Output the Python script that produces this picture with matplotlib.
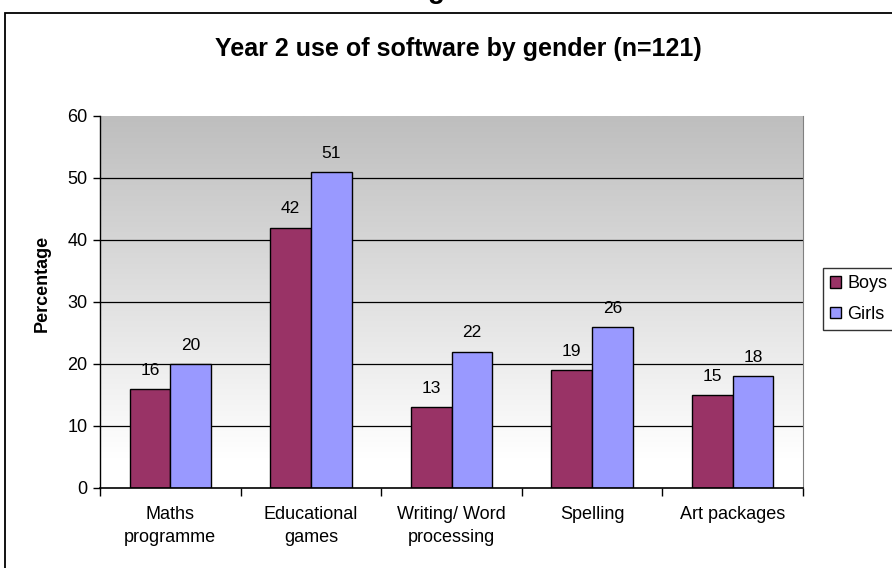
import numpy as np
import matplotlib.pyplot as plt
from matplotlib.patches import Rectangle
from matplotlib.colors import LinearSegmentedColormap

plt.rcParams['font.family'] = ['Liberation Sans', 'DejaVu Sans']

# data
categories = ['Maths\nprogramme', 'Educational\ngames', 'Writing/ Word\nprocessing',
              'Spelling', 'Art packages']
boys = [16, 42, 13, 19, 15]
girls = [20, 51, 22, 26, 18]
series_names = ['Boys', 'Girls']
yticks = [0, 10, 20, 30, 40, 50, 60]

boy_col = '#993366'
girl_col = '#9999FF'

fig = plt.figure(figsize=(8.92, 5.68), dpi=100)
ax = fig.add_axes([100/892, 80/568, 703/892, 372/568])

# outer chart frame (runs off the right and bottom edges like the reference)
fig.patches.append(Rectangle((5/892, -0.05), 1.0, 1 - 13/568 + 0.05,
                             transform=fig.transFigure, fill=False,
                             ec='black', lw=1.3))
# clipped heading fragment above the frame
fig.text(436/892, 1 + 2/568, 'g', fontsize=20, fontweight='bold',
         ha='center', va='baseline')

fig.text(458/892, 1 - 49/568, 'Year 2 use of software by gender (n=121)',
         fontsize=18, fontweight='bold', ha='center', va='center')

x = np.arange(len(categories))
w = 0.29

# gradient background
grad = np.linspace(0, 1, 256).reshape(-1, 1)
cmap = LinearSegmentedColormap.from_list('bg', [(0, '#ffffff'), (0.08, '#ffffff'),
                                                (1, '#bebebe')])
ax.imshow(grad, cmap=cmap, extent=[-0.5, len(categories) - 0.5, 0, 60],
          aspect='auto', origin='lower', zorder=0)

for t in yticks[1:-1]:
    ax.axhline(t, color='black', lw=0.9, zorder=1)

b1 = ax.bar(x - w/2, boys, w, color=boy_col, edgecolor='black', lw=1, zorder=2,
            label=series_names[0])
b2 = ax.bar(x + w/2, girls, w, color=girl_col, edgecolor='black', lw=1, zorder=2,
            label=series_names[1])

for bars, vals in ((b1, boys), (b2, girls)):
    for b, v in zip(bars, vals):
        ax.text(b.get_x() + b.get_width()/2, v + 1.8, str(v), ha='center',
                va='bottom', fontsize=12.5)

ax.set_xlim(-0.5, len(categories) - 0.5)
ax.set_ylim(0, 60)
ax.set_yticks(yticks)
ax.tick_params(axis='y', labelsize=13, length=5, width=1, direction='out', pad=4)
ax.set_xticks(np.arange(len(categories) + 1) - 0.5)
ax.set_xticklabels([])
ax.tick_params(axis='x', length=6, width=1, direction='out')
for i, c in enumerate(categories):
    ax.text(i, -2.9, c, ha='center', va='top', fontsize=13, linespacing=1.45)

ax.set_ylabel('Percentage', fontsize=13, fontweight='bold')
ax.yaxis.set_label_coords(-0.07, 0.55)

ax.spines['top'].set_visible(False)
ax.spines['right'].set_color('#808080')
ax.spines['left'].set_lw(1)
ax.spines['bottom'].set_lw(1.2)

leg = fig.legend(handles=[b1, b2], loc='upper left',
                 bbox_to_anchor=(823/892, 1 - 268/568), fontsize=13,
                 frameon=True, fancybox=False, edgecolor='black',
                 handlelength=0.6, handleheight=0.6, handletextpad=0.35,
                 borderpad=0.4, labelspacing=0.75, borderaxespad=0)
leg.get_frame().set_linewidth(1)

fig.savefig('out.png', dpi=100)
